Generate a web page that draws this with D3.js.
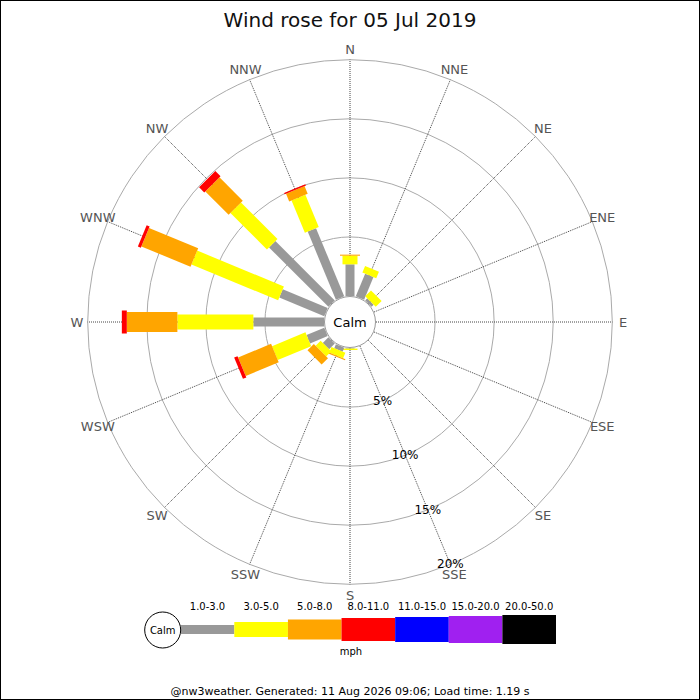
<!DOCTYPE html>
<html>
<head>
<meta charset="utf-8">
<script src="https://cdn.jsdelivr.net/npm/d3@7"></script>
<style>
  html, body { margin: 0; padding: 0; background: #fff; }
  svg { display: block; font-family: "DejaVu Sans", sans-serif; }
</style>
</head>
<body>
<svg id="chart" width="700" height="700"></svg>
<script>
// ---- data ----
const directions = ["N","NNE","NE","ENE","E","ESE","SE","SSE","S","SSW","SW","WSW","W","WNW","NW","NNW"];
const speedBins = ["1.0-3.0","3.0-5.0","5.0-8.0","8.0-11.0","11.0-15.0","15.0-20.0","20.0-50.0"];
const binColors = ["#999999","#ffff00","#ffa500","#ff0000","#0000ff","#a020f0","#000000"];
// percentage of time per direction, per speed bin
const bin1 = [2.68, 2.07, 0.25, 0, 0, 0, 0, 0, 0.05, 0.36, 0.68, 1.62, 5.98, 4.12, 7.11, 6.24];
const bin2 = [0.73, 0.60, 0.70, 0, 0, 0, 0, 0, 0.12, 0.50, 0.60, 3.06, 6.43, 7.94, 4.37, 2.96];
const bin3 = [0.09, 0, 0, 0, 0, 0, 0, 0, 0, 0.10, 0.76, 3.02, 4.28, 4.50, 2.79, 0.70];
const bin4 = [0, 0, 0, 0, 0, 0, 0, 0, 0, 0, 0, 0.31, 0.42, 0.27, 0.62, 0.12];
const bin5 = [0, 0, 0, 0, 0, 0, 0, 0, 0, 0, 0, 0, 0, 0, 0, 0];
const bin6 = [0, 0, 0, 0, 0, 0, 0, 0, 0, 0, 0, 0, 0, 0, 0, 0];
const bin7 = [0, 0, 0, 0, 0, 0, 0, 0, 0, 0, 0, 0, 0, 0, 0, 0];
const ringTicks = [5, 10, 15, 20];
const titleText = "Wind rose for 05 Jul 2019";
const footerText = "@nw3weather. Generated: 11 Aug 2026 09:06; Load time: 1.19 s";
const unitText = "mph";
const calmText = "Calm";

// ---- layout ----
const svg = d3.select("#chart");
const cx = 350, cy = 322;
const calmR = 26;
const r = d3.scaleLinear().domain([0, 20]).range([calmR, 262.3]);
const ang = d3.scaleBand().domain(directions).range([0, 360]).align(0).paddingInner(0);
const angleOf = d => ang(d); // degrees clockwise from north
const binWidths = [9, 15, 20, 23, 25, 27, 29];
const bins = [bin1, bin2, bin3, bin4, bin5, bin6, bin7];

// border
svg.append("rect").attr("x", 0.5).attr("y", 0.5).attr("width", 699).attr("height", 699)
  .attr("fill", "none").attr("stroke", "#000").attr("stroke-width", 1);

// title
svg.append("text").attr("x", 350).attr("y", 27).attr("text-anchor", "middle")
  .attr("font-size", 20).attr("fill", "#111").text(titleText);

const g = svg.append("g").attr("transform", `translate(${cx},${cy})`);

// rings
g.selectAll("circle.ring").data(ringTicks).join("circle")
  .attr("class", "ring").attr("r", d => r(d))
  .attr("fill", "none").attr("stroke", "#aaa").attr("stroke-width", 1);

// spokes
const rad = d => (angleOf(d) - 90) * Math.PI / 180;
g.selectAll("line.spoke").data(directions).join("line")
  .attr("class", "spoke")
  .attr("x1", d => calmR * Math.cos(rad(d))).attr("y1", d => calmR * Math.sin(rad(d)))
  .attr("x2", d => r(20) * Math.cos(rad(d))).attr("y2", d => r(20) * Math.sin(rad(d)))
  .attr("stroke", "#444").attr("stroke-width", 1).attr("stroke-dasharray", "1,1");

// direction labels
g.selectAll("text.dir").data(directions).join("text")
  .attr("class", "dir")
  .attr("x", d => 273 * Math.cos(rad(d))).attr("y", d => 273 * Math.sin(rad(d)))
  .attr("text-anchor", "middle").attr("dominant-baseline", "central")
  .attr("font-size", 13).attr("fill", "#555").text(d => d);

// bars
const segs = [];
directions.forEach((d, i) => {
  let cum = 0;
  bins.forEach((b, k) => {
    const v = b[i];
    if (v > 0) segs.push({dir: d, k, start: cum, end: cum + v});
    cum += v;
  });
});
g.selectAll("rect.seg").data(segs).join("rect")
  .attr("class", "seg")
  .attr("transform", d => `rotate(${angleOf(d.dir)})`)
  .attr("x", d => -binWidths[d.k] / 2)
  .attr("width", d => binWidths[d.k])
  .attr("y", d => -r(d.end))
  .attr("height", d => r(d.end) - r(d.start))
  .attr("fill", d => binColors[d.k]);

// calm circle
g.append("circle").attr("r", calmR - 0.5).attr("fill", "#fff").attr("stroke", "#999").attr("stroke-width", 1);
g.append("text").attr("text-anchor", "middle").attr("dominant-baseline", "central")
  .attr("font-size", 13).attr("fill", "#000").text(calmText);

// ring labels (along SSE spoke)
const labAng = rad("SSE");
g.selectAll("text.pct").data(ringTicks).join("text")
  .attr("class", "pct")
  .attr("x", d => r(d) * Math.cos(labAng)).attr("y", d => r(d) * Math.sin(labAng))
  .attr("text-anchor", "middle").attr("dominant-baseline", "central")
  .attr("font-size", 12).attr("fill", "#000").text(d => d + "%");

// legend
const lx = d3.scaleBand().domain(speedBins).range([180.7, 556]);
const ly = 629.5;
const leg = svg.append("g");
leg.selectAll("rect").data(speedBins).join("rect")
  .attr("x", d => lx(d)).attr("width", lx.bandwidth())
  .attr("y", (d, i) => ly - binWidths[i] / 2).attr("height", (d, i) => binWidths[i])
  .attr("fill", (d, i) => binColors[i]);
leg.selectAll("text.bin").data(speedBins).join("text")
  .attr("class", "bin")
  .attr("x", d => lx(d) + lx.bandwidth() / 2).attr("y", 610)
  .attr("text-anchor", "middle").attr("font-size", 10).attr("fill", "#000").text(d => d);
leg.append("circle").attr("cx", 162.7).attr("cy", 630).attr("r", 18)
  .attr("fill", "#fff").attr("stroke", "#000").attr("stroke-width", 1);
leg.append("text").attr("x", 162.7).attr("y", 630).attr("text-anchor", "middle")
  .attr("dominant-baseline", "central").attr("font-size", 10).attr("fill", "#000").text(calmText);
leg.append("text").attr("x", 351).attr("y", 655).attr("text-anchor", "middle")
  .attr("font-size", 10).attr("fill", "#000").text(unitText);

// footer
svg.append("text").attr("x", 350).attr("y", 695).attr("text-anchor", "middle")
  .attr("font-size", 11).attr("fill", "#000").text(footerText);
</script>
</body>
</html>
